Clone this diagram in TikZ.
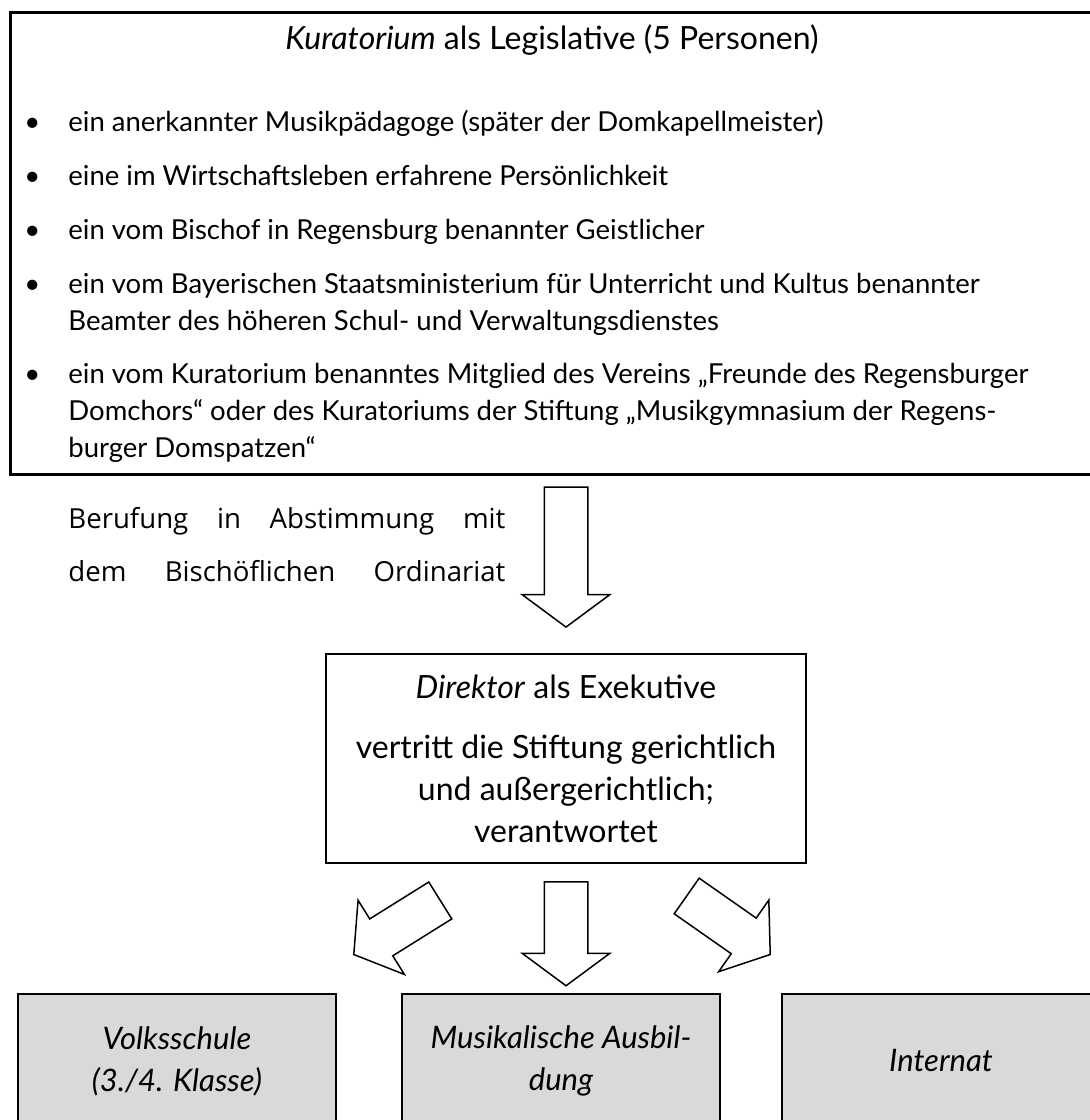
\documentclass[tikz,border=0pt]{standalone}
\usepackage{fontspec}
\setmainfont{Lato}
\newfontfamily\berufschrift{Open Sans}
\usetikzlibrary{shapes.arrows, positioning}

\definecolor{kastengrau}{HTML}{D9D9D9}

\tikzset{
  kasten/.style={draw, line width=1pt, inner sep=0pt, anchor=north west},
  punkt/.style={anchor=base west, align=left, inner sep=0pt,
    font=\fontsize{13.75pt}{18.5pt}\selectfont},
  bereich/.style={kasten, fill=kastengrau, minimum width=159pt,
    minimum height=67pt, align=center,
    font=\itshape\fontsize{15.5pt}{21pt}\selectfont},
  blockpfeil/.style={single arrow, draw, line width=0.75pt, inner xsep=0pt,
    inner ysep=10.5pt, minimum width=43pt, single arrow head extend=11pt,
    single arrow head indent=0pt, single arrow tip angle=107}
}
\newcommand{\aufz}{\llap{\textbullet\hspace{14pt}}}

\begin{document}
\begin{tikzpicture}[x=0.5pt, y=-0.5pt]
  \useasboundingbox (0,0) rectangle (1089,1120);

  % kuratorium
  \node [kasten, line width=1.25pt, minimum width=545pt, minimum height=231pt]
  (kurat) at (9,11) {};%
  \node [anchor=base, font=\fontsize{16pt}{19pt}\selectfont] (titel) at (552,49)
  {\textit{Kuratorium} als Legislative (5 Personen)};%
  % multi-line nodes sit on their last baseline
  \node [punkt] (p1) at (68,131)
  {\aufz ein anerkannter Musikpädagoge (später der Domkapellmeister)};%
  \node [punkt] (p2) at (68,185)
  {\aufz eine im Wirtschaftsleben erfahrene Persönlichkeit};%
  \node [punkt] (p3) at (68,239)
  {\aufz ein vom Bischof in Regensburg benannter Geistlicher};%
  \node [punkt] (p4) at (68,330)
  {\aufz ein vom Bayerischen Staatsministerium für Unterricht und Kultus benannter\\
  Beamter des höheren Schul- und Verwaltungsdienstes};%
  \node [punkt] (p5) at (68,457)
  {\aufz ein vom Kuratorium benanntes Mitglied des Vereins „Freunde des Regensburger\\
  Domchors“ oder des Kuratoriums der Stiftung „Musikgymnasium der Regens-\\
  burger Domspatzen“};%

  % berufung
  \node [anchor=base west, align=left, inner sep=0pt,
  font=\berufschrift\fontsize{13.8pt}{26.5pt}\selectfont] (berufung) at (68,581)
  {\makebox[218.5pt][s]{Berufung in Abstimmung mit}\\
  \makebox[218.5pt][s]{dem Bischöflichen Ordinariat}};%

  % direktor
  \node [kasten, minimum width=240pt, minimum height=104.5pt, align=center,
  font=\fontsize{16pt}{21pt}\selectfont] (direktor) at (325,653)
  {\textit{Direktor} als Exekutive\\[9pt]
  vertritt die Stiftung gerichtlich\\
  und außergerichtlich;\\
  verantwortet};%

  % bereiche
  \node [bereich] (volks) at (17,993) {Volksschule\\(3./4. Klasse)};%
  \node [bereich] (musik) at (401,993) {Musikalische Ausbil-\\dung};%
  \node [bereich] (internat) at (781,993) {Internat};%

  % arrows
  \node [blockpfeil, rotate=-90, minimum height=70pt, anchor=tip] (pfeilK)
  at ([yshift=12.5pt]direktor.north) {};%
  \node [blockpfeil, rotate=-90, minimum height=52pt, anchor=tail] (pfeilM)
  at ([yshift=-8.5pt]direktor.south) {};%
  \node [blockpfeil, rotate=212, minimum height=51pt, anchor=tip] (pfeilL)
  at ([xshift=8pt, yshift=19pt]volks.north east) {};%
  \node [blockpfeil, rotate=-35, minimum height=51pt, anchor=tip] (pfeilR)
  at ([xshift=-5pt, yshift=19pt]internat.north west) {};%
\end{tikzpicture}
\end{document}
